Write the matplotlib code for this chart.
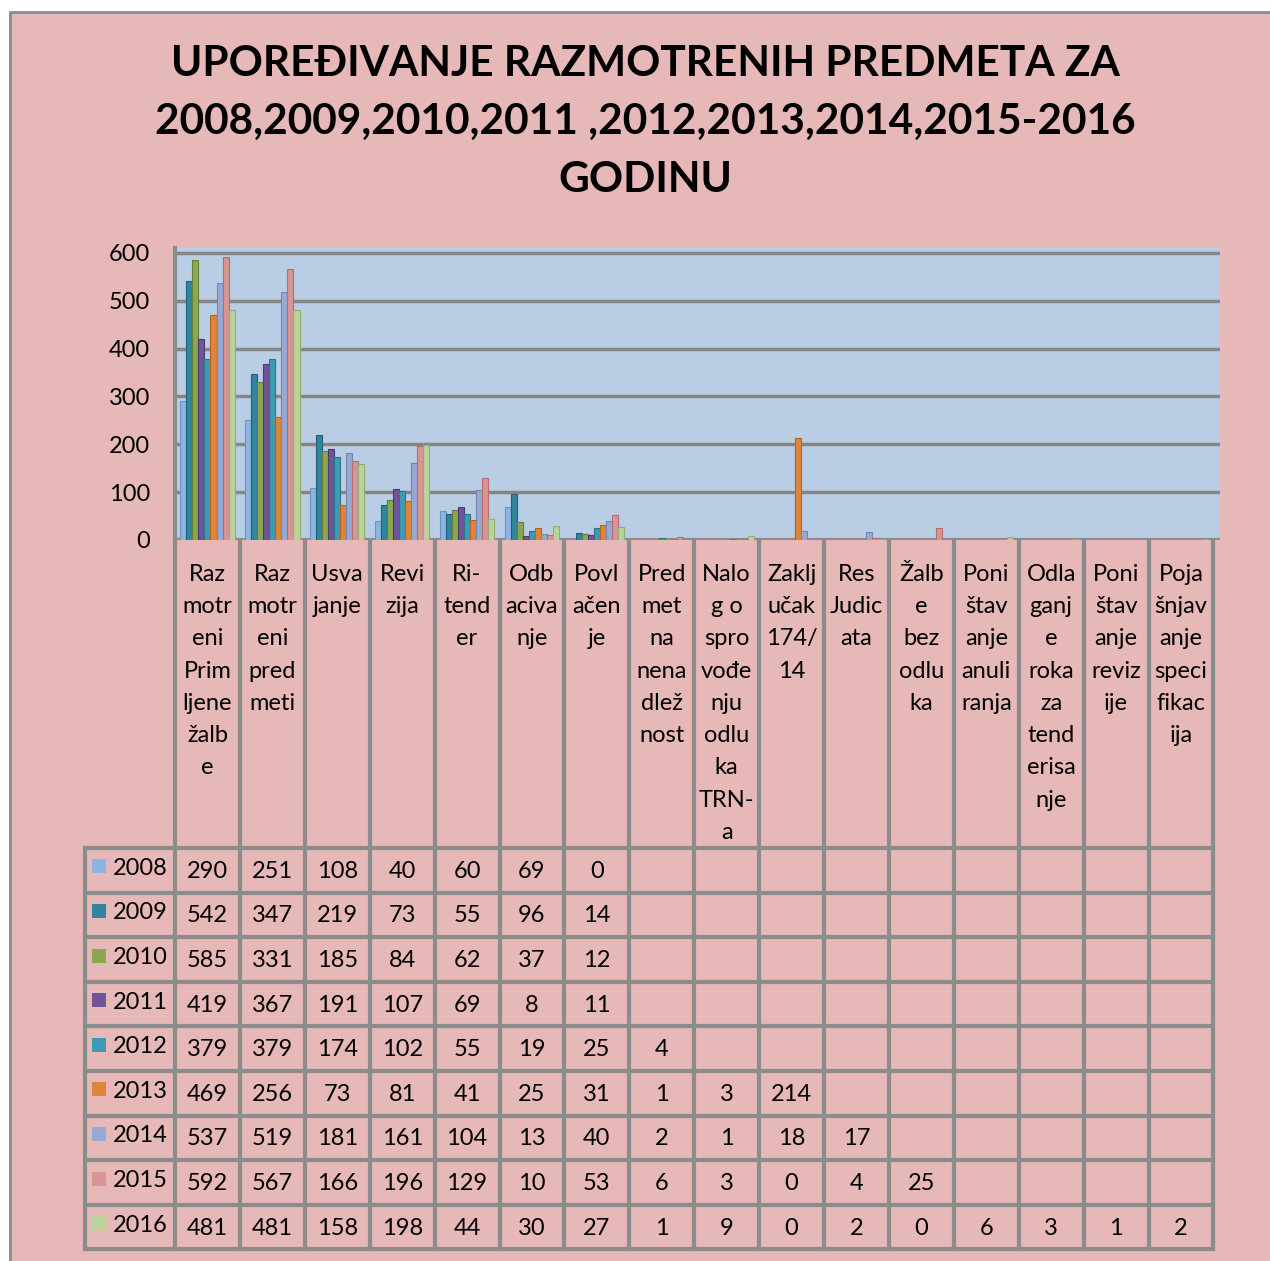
import matplotlib.pyplot as plt
from matplotlib.patches import Rectangle
import numpy as np

plt.rcParams['font.family'] = ['Lato', 'DejaVu Sans']

title = "UPOREĐIVANJE RAZMOTRENIH PREDMETA ZA\n2008,2009,2010,2011 ,2012,2013,2014,2015-2016\nGODINU"

categories = [
    "Raz\nmotr\neni\nPrim\nljene\nžalb\ne",
    "Raz\nmotr\neni\npred\nmeti",
    "Usva\njanje",
    "Revi\nzija",
    "Ri-\ntend\ner",
    "Odb\naciva\nnje",
    "Povl\načen\nje",
    "Pred\nmet\nna\nnena\ndlež\nnost",
    "Nalo\ng o\nspro\nvođe\nnju\nodlu\nka\nTRN-\na",
    "Zaklj\nučak\n174/\n14",
    "Res\nJudic\nata",
    "Žalb\ne\nbez\nodlu\nka",
    "Poni\nštav\nanje\nanuli\nranja",
    "Odla\nganj\ne\nroka\nza\ntend\nerisa\nnje",
    "Poni\nštav\nanje\nreviz\nije",
    "Poja\nšnjav\nanje\nspeci\nfikac\nija",
]

years = ["2008", "2009", "2010", "2011", "2012", "2013", "2014", "2015", "2016"]

# None = empty cell in the table
v2008 = [290, 251, 108, 40, 60, 69, 0]
v2009 = [542, 347, 219, 73, 55, 96, 14]
v2010 = [585, 331, 185, 84, 62, 37, 12]
v2011 = [419, 367, 191, 107, 69, 8, 11]
v2012 = [379, 379, 174, 102, 55, 19, 25, 4]
v2013 = [469, 256, 73, 81, 41, 25, 31, 1, 3, 214]
v2014 = [537, 519, 181, 161, 104, 13, 40, 2, 1, 18, 17]
v2015 = [592, 567, 166, 196, 129, 10, 53, 6, 3, 0, 4, 25]
v2016 = [481, 481, 158, 198, 44, 30, 27, 1, 9, 0, 2, 0, 6, 3, 1, 2]

series = [v2008, v2009, v2010, v2011, v2012, v2013, v2014, v2015, v2016]

colors = ["#8DB4E2", "#31859C", "#8BA84E", "#6F5597", "#3F9BB3",
          "#E0843A", "#95A9D3", "#D99594", "#B9D39A"]
edges = ["#6E93C0", "#1F6275", "#667F35", "#4E3A72", "#2A7689",
         "#B5631F", "#7186B3", "#B36E6D", "#93AD74"]

W, H = 1270, 1261
fig = plt.figure(figsize=(W / 100, H / 100), dpi=100)
fig.patch.set_facecolor("white")

bg = fig.add_axes([0, 0, 1, 1])
bg.set_xlim(0, W)
bg.set_ylim(H, 0)
bg.axis("off")
bg.add_patch(Rectangle((10, 12), W, H, facecolor="#E6B8B7", edgecolor="#8C8C8C", lw=2))

bg.text(645, 122, title, ha="center", va="center", fontsize=30.5, fontweight="bold",
        linespacing=1.66)

# table geometry (pixels)
col0, colw = 175, 64.9
ncol = len(categories)
top_lbl, top_data, rowh = 540, 848, 44.6
line_c = "#8C8C8C"
right = col0 + ncol * colw
bottom = top_data + len(years) * rowh

for k in range(ncol + 1):
    x = col0 + k * colw
    bg.plot([x, x], [top_lbl, bottom], color=line_c, lw=3, solid_capstyle="projecting")
bg.plot([85, 85], [top_data, bottom], color=line_c, lw=3)
for r in range(len(years) + 1):
    y = top_data + r * rowh
    bg.plot([85, right], [y, y], color=line_c, lw=3, solid_capstyle="projecting")

for k, lab in enumerate(categories):
    bg.text(col0 + (k + 0.5) * colw, 564, lab, ha="center", va="top", fontsize=17,
            linespacing=1.66)

for r, (yr, vals) in enumerate(zip(years, series)):
    yc = top_data + (r + 0.5) * rowh
    bg.add_patch(Rectangle((92, yc - 11), 14, 14, facecolor=colors[r], edgecolor="none"))
    bg.text(113, yc - 2, yr, ha="left", va="center", fontsize=17)
    for k, v in enumerate(vals):
        if v is not None:
            bg.text(col0 + (k + 0.5) * colw, yc + 1, str(v), ha="center", va="center", fontsize=17)

# chart area
px_l, px_r, px_t, px_b = 175, 1220, 248, 540
ax = fig.add_axes([px_l / W, 1 - px_b / H, (px_r - px_l) / W, (px_b - px_t) / H])
ax.set_facecolor("#B9CDE5")
ax.set_xlim(-0.5, -0.5 + (px_r - px_l) / colw)
ax.set_ylim(0, 610)
ax.set_yticks(range(0, 601, 100))
ax.yaxis.grid(True, color="#868686", lw=2.5)
ax.set_axisbelow(True)
ax.set_xticks([])
ax.tick_params(axis="y", length=0, labelsize=17, pad=18)
for s in ["top", "right", "bottom"]:
    ax.spines[s].set_visible(False)
ax.spines["left"].set_color("#8C8C8C")
ax.spines["left"].set_linewidth(3)
ax.axhline(0, color="#8C8C8C", lw=3)

bw = 0.093
for i, vals in enumerate(series):
    xs = np.arange(len(vals)) + (i - 4) * bw
    ax.bar(xs, vals, width=bw, color=colors[i], edgecolor=edges[i], lw=0.8, zorder=3)

fig.savefig("out.png", dpi=100)
